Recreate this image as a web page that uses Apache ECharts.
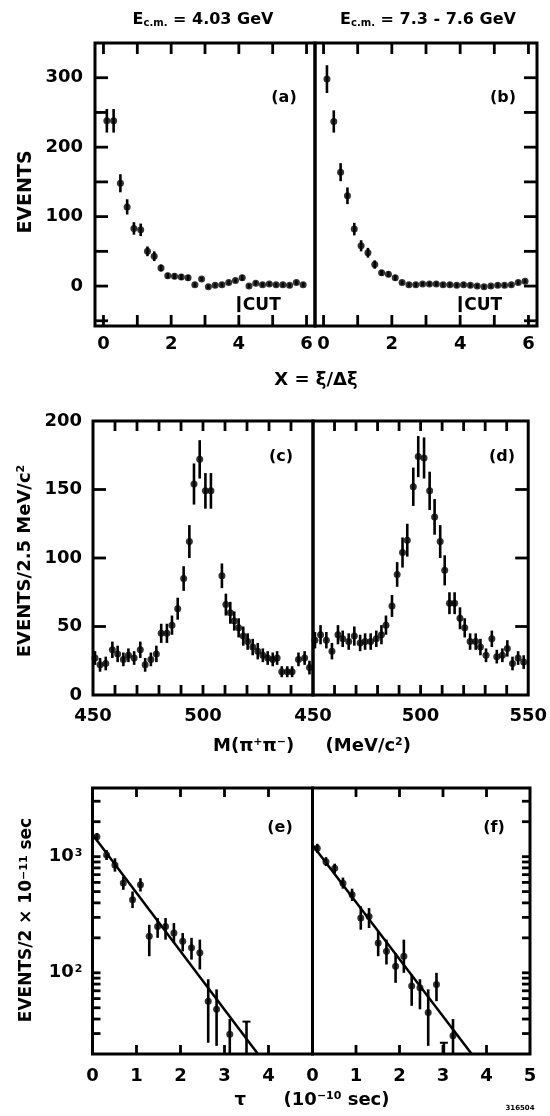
<!DOCTYPE html>
<html><head><meta charset="utf-8">
<script src="https://cdn.jsdelivr.net/npm/echarts@6/dist/echarts.min.js"></script>
<style>html,body{margin:0;padding:0;background:#fff}#c{width:550px;height:1116px}</style>
</head><body><div id="c"></div><script>
const FONT = 'DejaVu Sans';

// ---------- panels (a),(b): X = xi / delta-xi ----------
const xiBins = [0.1,0.3,0.5,0.7,0.9,1.1,1.3,1.5,1.7,1.9,2.1,2.3,2.5,2.7,2.9,3.1,3.3,3.5,3.7,3.9,4.1,4.3,4.5,4.7,4.9,5.1,5.3,5.5,5.7,5.9];
const aEvents = [238,238,148,114,83,81,50,43,26,15,14,13,12,2,10,-1,1,2,5,8,12,0,4,2,3,2,2,1,5,2];
const aErr    = [17,17,13,11,9,9,7,7,5,4,4,4,4,3,3,3,3,3,3,3,4,3,3,3,3,3,3,3,3,3];
const bEvents = [298,237,164,130,82,58,48,31,19,17,12,5,2,2,3,3,3,2,2,1,2,1,0,-1,0,1,1,2,5,7];
const bErr    = [20,16,13,12,9,8,7,6,4,4,4,3,3,3,3,3,3,3,3,3,3,3,3,3,3,3,3,3,3,3];
const xiTicks = [0,1,2,3,4,5,6];
const xiLabels = [0,2,4,6];
const evTicks = [-50,0,50,100,150,200,250,300];
const evLabels = [0,100,200,300];
const cutX = 4, cutY = -26;

// ---------- panels (c),(d): M(pi+ pi-) ----------
const cMass   = [450.9,453.2,455.8,458.8,461.2,463.8,466.1,468.7,471.5,473.7,476.3,478.8,481,483.6,485.9,488.5,491.2,493.8,495.9,498.5,501.1,503.6,508.6,510.4,512.4,514.2,516.2,518.3,520.3,522.6,524.9,527.2,529.4,531.7,533.7,535.8,538.3,540.5,543.4,546.2,548.4];
const cEvents = [27,22,23,33,30,26,29,27,33,22,26,30,45,45,51,63,85,112,154,172,149,149,87,66,60,54,49,43,39,35,32,29,27,26,27,17,17,17,26,27,20];
const cErr    = [5,5,5,6,6,5,5,5,6,5,5,6,7,7,7,8,9,12,15,14,13,13,9,8,8,7,7,7,6,6,6,5,5,5,5,4,4,4,5,5,5];
const dMass   = [450.9,453.5,456.2,458.8,461.6,463.8,466.6,469.2,471.9,474.2,476.8,479.4,481.8,483.9,486.7,489.1,491.6,493.8,496.6,498.9,501.6,504.2,506.5,509.1,511.2,513.4,515.8,518.3,520.5,523,525.6,527.8,530.4,533.1,535.4,538,540.3,542.7,545.3,547.9];
const dEvents = [40,44,40,32,44,41,39,43,38,39,39,41,44,51,65,88,104,113,152,174,173,149,130,112,91,67,67,56,49,39,39,35,29,41,28,29,34,23,27,24];
const dErr    = [6,7,6,6,7,6,6,7,6,6,6,6,7,7,8,9,11,12,14,15,15,14,13,12,11,8,8,8,7,6,6,6,5,6,5,5,6,5,5,5];
const massTicks = [460,470,480,490,500,510,520,530,540];
const cMassLabels = [450,500];
const dMassLabels = [450,500,550];
const mEvTicks = [50,100,150];
const mEvLabels = [0,50,100,150,200];

// ---------- panels (e),(f): proper time tau ----------
const eTau    = [0.1,0.32,0.51,0.70,0.91,1.09,1.29,1.48,1.66,1.85,2.05,2.25,2.44,2.63,2.82,3.12,3.5];
const eEvents = [1484,1033,849,592,425,572,206,251,251,220,187,164,149,57,48.5,29.6,null];
const eLo     = [1380,936,743,518,361,501,139,200,193,181,153,130,107,25,23.5,10,10];
const eHi     = [1600,1140,968,674,501,652,259,296,296,268,220,200,193,88,72,40,38];
const fTau    = [0.11,0.31,0.51,0.70,0.91,1.11,1.30,1.51,1.70,1.91,2.10,2.28,2.47,2.66,2.85,3.02,3.23];
const fEvents = [1179,906,794,591,470,297,306,181,153,114,139,77,74.5,45.5,79.5,null,28.7];
const fLo     = [1080,830,720,530,415,235,243,139,118,82,100,52,48.5,23.5,57,10,10];
const fHi     = [1290,990,870,660,530,373,361,228,193,148,193,97,88,72,100,25,40];
const eFit = [[0,1550],[3.76,20]];
const fFit = [[0,1259],[3.66,20]];
const tauTicks = [1,2,3,4];
const eTauLabels = [0,1,2,3,4];
const fTauLabels = [0,1,2,3,4,5];
const logTicks = [30,40,50,60,70,80,90,100,200,300,400,500,600,700,800,900,1000,2000,3000];
const logLabels = [100,1000];

// ---------- layout ----------
const grids = [
  {left:95,   top:43,  width:220,   height:283},
  {left:315,  top:43,  width:222,   height:283},
  {left:93,   top:421, width:220,   height:274},
  {left:313,  top:421, width:219,   height:274},
  {left:92.5, top:788, width:220,   height:266},
  {left:312.5,top:788, width:217.5, height:266}
].map(g => Object.assign({show:true, borderColor:'#000', borderWidth:3, backgroundColor:'transparent', containLabel:false}, g));

const labelStyle = {color:'#000', fontFamily:FONT, fontWeight:'bold', fontSize:18};
function ax(gi, type, min, max, pos, labels, margin, fmt) {
  const a = {type, gridIndex:gi, min, max, position:pos,
    axisLine:{show:false, onZero:false}, splitLine:{show:false}, axisTick:{show:false},
    axisLabel: labels ? Object.assign({show:true, customValues:labels, margin:margin}, labelStyle) : {show:false}};
  if (type === 'log') a.logBase = 10;
  if (fmt && labels) { a.axisLabel.formatter = fmt;
    a.axisLabel.rich = {s:{fontSize:11, fontFamily:FONT, fontWeight:'bold', color:'#000', verticalAlign:'top', padding:[0,0,0,1]},
                        n:{fontSize:18, fontFamily:FONT, fontWeight:'bold', color:'#000'}}; }
  return a;
}
const logFmt = v => (Math.abs(v-1000) < 1e-6 ? '{n|10}{s|3}' : '{n|10}{s|2}');

const xAxis = [
  ax(0,'value',-0.25,6.25,'bottom',xiLabels,9),
  ax(1,'value',-0.25,6.25,'bottom',xiLabels,9),
  ax(2,'value',450,550,'bottom',cMassLabels,12),
  ax(3,'value',450,550,'bottom',dMassLabels,12),
  ax(4,'value',0,5,'bottom',eTauLabels,13),
  ax(5,'value',0,5,'bottom',fTauLabels,13)
];
const yAxis = [
  ax(0,'value',-57.5,350,'left',evLabels,12),
  ax(1,'value',-57.5,350,'right',null),
  ax(2,'value',0,200,'left',mEvLabels,11),
  ax(3,'value',0,200,'right',null),
  ax(4,'log',20,3900,'left',logLabels,10,logFmt),
  ax(5,'log',20,3900,'right',null)
];

// inward ticks on bottom/top edges (x) and on one vertical edge (y)
function tickSeries(i, xTicks, yTicks, xMin, yMin, side, xLen, yLen) {
  const data = xTicks.map(v => [v, yMin, 0]).concat(yTicks.map(v => [xMin, v, 1]));
  return {type:'custom', xAxisIndex:i, yAxisIndex:i, silent:true, z:5, data,
    renderItem:(params, api) => {
      const cs = params.coordSys, p = api.coord([api.value(0), api.value(1)]);
      const st = {stroke:'#000', lineWidth:2.8};
      if (api.value(2) === 0) {
        const b = cs.y + cs.height;
        return {type:'group', children:[
          {type:'line', shape:{x1:p[0], y1:b, x2:p[0], y2:b - xLen}, style:st},
          {type:'line', shape:{x1:p[0], y1:cs.y, x2:p[0], y2:cs.y + xLen}, style:st}]};
      }
      const x0 = side === 'left' ? cs.x : cs.x + cs.width;
      const dx = side === 'left' ? yLen : -yLen;
      return {type:'line', shape:{x1:x0, y1:p[1], x2:x0 + dx, y2:p[1]}, style:st};
    }};
}

function errRender(params, api) {
  const x = api.value(0), lo = api.value(1), hi = api.value(2), cap = api.value(3);
  const p1 = api.coord([x, lo]), p2 = api.coord([x, hi]);
  const children = [{type:'line', shape:{x1:p1[0], y1:p1[1], x2:p2[0], y2:p2[1]}, style:{stroke:'#000', lineWidth:2.6}}];
  if (cap) children.push({type:'line', shape:{x1:p2[0]-4, y1:p2[1], x2:p2[0]+4, y2:p2[1]}, style:{stroke:'#000', lineWidth:2}});
  return {type:'group', children};
}
function errSeries(i, xs, los, his, caps) {
  return {type:'custom', xAxisIndex:i, yAxisIndex:i, clip:true, silent:true, renderItem:errRender,
    data: xs.map((x,k)=>[x, los[k], his[k], caps ? caps[k] : 0])};
}
function ptSeries(i, xs, ys, size) {
  return {type:'scatter', xAxisIndex:i, yAxisIndex:i, symbol:'circle', symbolSize:size, clip:true, silent:true,
    itemStyle:{color:'#000'}, data: xs.map((x,k)=>[x, ys[k] === null ? '-' : ys[k]])};
}
function cutSeries(i) {
  return {type:'custom', xAxisIndex:i, yAxisIndex:i, silent:true, data:[[cutX, cutY]],
    renderItem:(p, api) => { const c = api.coord([api.value(0), api.value(1)]);
      return {type:'group', children:[
        {type:'line', shape:{x1:c[0], y1:c[1]-8, x2:c[0], y2:c[1]+8}, style:{stroke:'#000', lineWidth:3}},
        {type:'text', x:c[0]+4, y:c[1]+1, style:{text:'CUT', fill:'#000', fontFamily:FONT, fontWeight:'bold', fontSize:17, align:'left', verticalAlign:'middle'}}]};}};
}
const sym = (a,b,s) => a.map((v,k)=> v + s*b[k]);
const capsE = eEvents.map(v => v === null ? 1 : 0);
const capsF = fEvents.map(v => v === null ? 1 : 0);

const series = [
  tickSeries(0, xiTicks, evTicks, -0.25, -57.5, 'left', 11, 13),
  tickSeries(1, xiTicks, evTicks, -0.25, -57.5, 'right', 11, 13),
  tickSeries(2, massTicks, mEvTicks, 450, 0, 'left', 10, 13),
  tickSeries(3, massTicks, mEvTicks, 450, 0, 'right', 10, 13),
  tickSeries(4, tauTicks, logTicks, 0, 20, 'left', 9, 8),
  tickSeries(5, tauTicks, logTicks, 0, 20, 'right', 9, 8),
  errSeries(0, xiBins, sym(aEvents,aErr,-1), sym(aEvents,aErr,1)), ptSeries(0, xiBins, aEvents, 7), cutSeries(0),
  errSeries(1, xiBins, sym(bEvents,bErr,-1), sym(bEvents,bErr,1)), ptSeries(1, xiBins, bEvents, 7), cutSeries(1),
  errSeries(2, cMass, sym(cEvents,cErr,-1), sym(cEvents,cErr,1)), ptSeries(2, cMass, cEvents, 7),
  errSeries(3, dMass, sym(dEvents,dErr,-1), sym(dEvents,dErr,1)), ptSeries(3, dMass, dEvents, 7),
  errSeries(4, eTau, eLo, eHi, capsE), ptSeries(4, eTau, eEvents, 7),
  {type:'line', xAxisIndex:4, yAxisIndex:4, data:eFit, symbol:'none', clip:true, silent:true, lineStyle:{color:'#000', width:2.5}},
  errSeries(5, fTau, fLo, fHi, capsF), ptSeries(5, fTau, fEvents, 7),
  {type:'line', xAxisIndex:5, yAxisIndex:5, data:fFit, symbol:'none', clip:true, silent:true, lineStyle:{color:'#000', width:2.5}}
];

const B = {fontFamily:FONT, fontWeight:'bold', fill:'#000'};
const richT = {
  sub:{fontFamily:FONT, fontWeight:'bold', fill:'#000', fontSize:10, verticalAlign:'bottom', padding:[6,0,0,0]},
  sup:{fontFamily:FONT, fontWeight:'bold', fill:'#000', fontSize:11, verticalAlign:'top', padding:[0,0,6,0]},
  m16:{fontFamily:FONT, fontWeight:'bold', fill:'#000', fontSize:16},
  m17:{fontFamily:FONT, fontWeight:'bold', fill:'#000', fontSize:17},
  m18:{fontFamily:FONT, fontWeight:'bold', fill:'#000', fontSize:18}
};
function T(text, x, y, size, rot, extra) {
  return {type:'text', x, y, rotation: rot || 0, silent:true,
    style:Object.assign({text, fontSize:size, align:'center', verticalAlign:'middle', rich:richT}, B, extra || {})};
}
const graphic = [
  T('{m16|E}{sub|c.m.}{m16| = 4.03 GeV}', 203, 20, 16),
  T('{m16|E}{sub|c.m.}{m16| = 7.3 - 7.6 GeV}', 428, 20, 16),
  T('EVENTS', 26, 192, 19, Math.PI/2),
  T('{m18|X = ξ/Δξ}', 316, 380, 18),
  T('{m18|EVENTS/2.5 MeV/c}{sup|2}', 25, 561, 18, Math.PI/2),
  T('{m18|M(π}{sup|+}{m18|π}{sup|−}{m18|)     (MeV/c}{sup|2}{m18|)}', 312, 746, 18),
  T('{m17|EVENTS/2 × 10}{sup|−11}{m17| sec}', 27, 920, 17, Math.PI/2),
  T('{m18|τ      (10}{sup|−10}{m18| sec)}', 312, 1100, 18),
  T('316504', 520, 1108, 7),
  T('(a)', 284, 98, 16), T('(b)', 503, 98, 16),
  T('(c)', 281, 457, 16), T('(d)', 502, 457, 16),
  T('(e)', 280, 828, 16), T('(f)', 494, 828, 16)
];

const chart = echarts.init(document.getElementById('c'), null, {renderer:'canvas'});
chart.setOption({backgroundColor:'#fff', animation:false, grid:grids, xAxis, yAxis, series, graphic});
</script></body></html>
